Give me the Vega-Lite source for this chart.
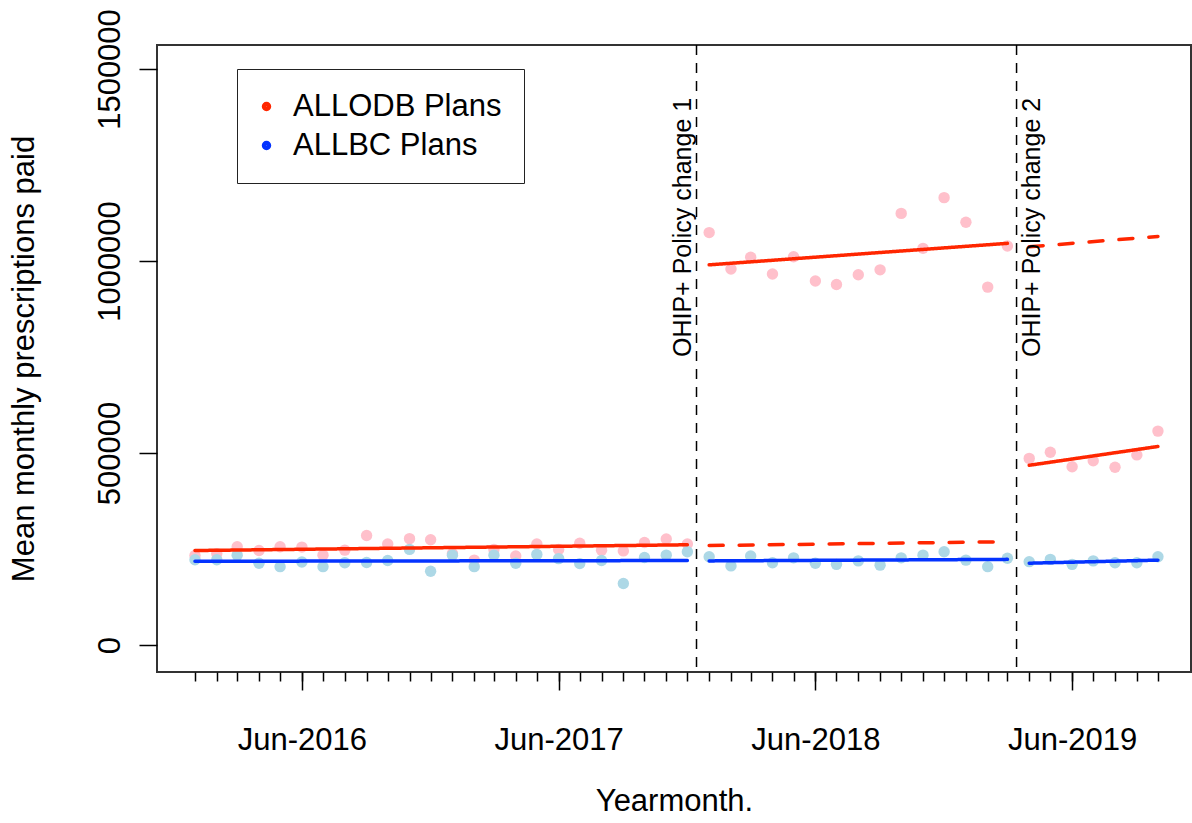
{
  "$schema": "https://vega.github.io/schema/vega-lite/v6.json",
  "width": 1034,
  "height": 627,
  "autosize": {"type": "none"},
  "padding": {"left": 157, "top": 45, "right": 1, "bottom": 151},
  "background": "white",
  "config": {
    "font": "Liberation Sans",
    "view": {"stroke": "#333333", "strokeWidth": 2},
    "axis": {
      "grid": false, "domain": false, "tickColor": "#000000", "tickWidth": 1.5,
      "labelColor": "#000000", "titleColor": "#000000",
      "labelFont": "Liberation Sans", "titleFont": "Liberation Sans",
      "labelFontSize": 31, "titleFontSize": 31, "titleFontWeight": "normal"
    }
  },
  "datasets": {
    "points": [
      {"date": "2016-01-01", "series": "ALLODB Plans", "value": 233000},
      {"date": "2016-02-01", "series": "ALLODB Plans", "value": 238000},
      {"date": "2016-03-01", "series": "ALLODB Plans", "value": 256000},
      {"date": "2016-04-01", "series": "ALLODB Plans", "value": 246000},
      {"date": "2016-05-01", "series": "ALLODB Plans", "value": 256000},
      {"date": "2016-06-01", "series": "ALLODB Plans", "value": 255000},
      {"date": "2016-07-01", "series": "ALLODB Plans", "value": 234000},
      {"date": "2016-08-01", "series": "ALLODB Plans", "value": 247000},
      {"date": "2016-09-01", "series": "ALLODB Plans", "value": 285000},
      {"date": "2016-10-01", "series": "ALLODB Plans", "value": 263000},
      {"date": "2016-11-01", "series": "ALLODB Plans", "value": 277000},
      {"date": "2016-12-01", "series": "ALLODB Plans", "value": 274000},
      {"date": "2017-01-01", "series": "ALLODB Plans", "value": 238000},
      {"date": "2017-02-01", "series": "ALLODB Plans", "value": 221000},
      {"date": "2017-03-01", "series": "ALLODB Plans", "value": 249000},
      {"date": "2017-04-01", "series": "ALLODB Plans", "value": 232000},
      {"date": "2017-05-01", "series": "ALLODB Plans", "value": 263000},
      {"date": "2017-06-01", "series": "ALLODB Plans", "value": 249000},
      {"date": "2017-07-01", "series": "ALLODB Plans", "value": 265000},
      {"date": "2017-08-01", "series": "ALLODB Plans", "value": 247000},
      {"date": "2017-09-01", "series": "ALLODB Plans", "value": 245000},
      {"date": "2017-10-01", "series": "ALLODB Plans", "value": 267000},
      {"date": "2017-11-01", "series": "ALLODB Plans", "value": 276000},
      {"date": "2017-12-01", "series": "ALLODB Plans", "value": 263000},
      {"date": "2018-01-01", "series": "ALLODB Plans", "value": 1074000},
      {"date": "2018-02-01", "series": "ALLODB Plans", "value": 979000},
      {"date": "2018-03-01", "series": "ALLODB Plans", "value": 1010000},
      {"date": "2018-04-01", "series": "ALLODB Plans", "value": 966000},
      {"date": "2018-05-01", "series": "ALLODB Plans", "value": 1011000},
      {"date": "2018-06-01", "series": "ALLODB Plans", "value": 948000},
      {"date": "2018-07-01", "series": "ALLODB Plans", "value": 939000},
      {"date": "2018-08-01", "series": "ALLODB Plans", "value": 964000},
      {"date": "2018-09-01", "series": "ALLODB Plans", "value": 977000},
      {"date": "2018-10-01", "series": "ALLODB Plans", "value": 1124000},
      {"date": "2018-11-01", "series": "ALLODB Plans", "value": 1033000},
      {"date": "2018-12-01", "series": "ALLODB Plans", "value": 1165000},
      {"date": "2019-01-01", "series": "ALLODB Plans", "value": 1101000},
      {"date": "2019-02-01", "series": "ALLODB Plans", "value": 932000},
      {"date": "2019-03-01", "series": "ALLODB Plans", "value": 1039000},
      {"date": "2019-04-01", "series": "ALLODB Plans", "value": 486000},
      {"date": "2019-05-01", "series": "ALLODB Plans", "value": 502000},
      {"date": "2019-06-01", "series": "ALLODB Plans", "value": 464000},
      {"date": "2019-07-01", "series": "ALLODB Plans", "value": 480000},
      {"date": "2019-08-01", "series": "ALLODB Plans", "value": 463000},
      {"date": "2019-09-01", "series": "ALLODB Plans", "value": 495000},
      {"date": "2019-10-01", "series": "ALLODB Plans", "value": 557000},
      {"date": "2016-01-01", "series": "ALLBC Plans", "value": 222000},
      {"date": "2016-02-01", "series": "ALLBC Plans", "value": 222000},
      {"date": "2016-03-01", "series": "ALLBC Plans", "value": 234000},
      {"date": "2016-04-01", "series": "ALLBC Plans", "value": 213000},
      {"date": "2016-05-01", "series": "ALLBC Plans", "value": 204000},
      {"date": "2016-06-01", "series": "ALLBC Plans", "value": 216000},
      {"date": "2016-07-01", "series": "ALLBC Plans", "value": 204000},
      {"date": "2016-08-01", "series": "ALLBC Plans", "value": 214000},
      {"date": "2016-09-01", "series": "ALLBC Plans", "value": 215000},
      {"date": "2016-10-01", "series": "ALLBC Plans", "value": 220000},
      {"date": "2016-11-01", "series": "ALLBC Plans", "value": 249000},
      {"date": "2016-12-01", "series": "ALLBC Plans", "value": 192000},
      {"date": "2017-01-01", "series": "ALLBC Plans", "value": 234000},
      {"date": "2017-02-01", "series": "ALLBC Plans", "value": 204000},
      {"date": "2017-03-01", "series": "ALLBC Plans", "value": 234000},
      {"date": "2017-04-01", "series": "ALLBC Plans", "value": 213000},
      {"date": "2017-05-01", "series": "ALLBC Plans", "value": 236000},
      {"date": "2017-06-01", "series": "ALLBC Plans", "value": 225000},
      {"date": "2017-07-01", "series": "ALLBC Plans", "value": 212000},
      {"date": "2017-08-01", "series": "ALLBC Plans", "value": 220000},
      {"date": "2017-09-01", "series": "ALLBC Plans", "value": 160000},
      {"date": "2017-10-01", "series": "ALLBC Plans", "value": 228000},
      {"date": "2017-11-01", "series": "ALLBC Plans", "value": 234000},
      {"date": "2017-12-01", "series": "ALLBC Plans", "value": 243000},
      {"date": "2018-01-01", "series": "ALLBC Plans", "value": 230000},
      {"date": "2018-02-01", "series": "ALLBC Plans", "value": 206000},
      {"date": "2018-03-01", "series": "ALLBC Plans", "value": 232000},
      {"date": "2018-04-01", "series": "ALLBC Plans", "value": 214000},
      {"date": "2018-05-01", "series": "ALLBC Plans", "value": 227000},
      {"date": "2018-06-01", "series": "ALLBC Plans", "value": 213000},
      {"date": "2018-07-01", "series": "ALLBC Plans", "value": 210000},
      {"date": "2018-08-01", "series": "ALLBC Plans", "value": 219000},
      {"date": "2018-09-01", "series": "ALLBC Plans", "value": 208000},
      {"date": "2018-10-01", "series": "ALLBC Plans", "value": 227000},
      {"date": "2018-11-01", "series": "ALLBC Plans", "value": 234000},
      {"date": "2018-12-01", "series": "ALLBC Plans", "value": 243000},
      {"date": "2019-01-01", "series": "ALLBC Plans", "value": 221000},
      {"date": "2019-02-01", "series": "ALLBC Plans", "value": 204000},
      {"date": "2019-03-01", "series": "ALLBC Plans", "value": 226000},
      {"date": "2019-04-01", "series": "ALLBC Plans", "value": 217000},
      {"date": "2019-05-01", "series": "ALLBC Plans", "value": 223000},
      {"date": "2019-06-01", "series": "ALLBC Plans", "value": 210000},
      {"date": "2019-07-01", "series": "ALLBC Plans", "value": 219000},
      {"date": "2019-08-01", "series": "ALLBC Plans", "value": 214000},
      {"date": "2019-09-01", "series": "ALLBC Plans", "value": 214000},
      {"date": "2019-10-01", "series": "ALLBC Plans", "value": 230000}
    ],
    "fits": [
      {"series": "ALLODB Plans", "seg": "odb1", "style": "solid", "date": "2016-01-01", "value": 246000},
      {"series": "ALLODB Plans", "seg": "odb1", "style": "solid", "date": "2017-12-01", "value": 261000},
      {"series": "ALLODB Plans", "seg": "odb1cf", "style": "dashed", "date": "2018-01-01", "value": 259000},
      {"series": "ALLODB Plans", "seg": "odb1cf", "style": "dashed", "date": "2019-03-01", "value": 269000},
      {"series": "ALLODB Plans", "seg": "odb2", "style": "solid", "date": "2018-01-01", "value": 990000},
      {"series": "ALLODB Plans", "seg": "odb2", "style": "solid", "date": "2019-03-01", "value": 1046000},
      {"series": "ALLODB Plans", "seg": "odb2cf", "style": "dashed", "date": "2019-04-01", "value": 1037000},
      {"series": "ALLODB Plans", "seg": "odb2cf", "style": "dashed", "date": "2019-10-01", "value": 1064000},
      {"series": "ALLODB Plans", "seg": "odb3", "style": "solid", "date": "2019-04-01", "value": 468000},
      {"series": "ALLODB Plans", "seg": "odb3", "style": "solid", "date": "2019-10-01", "value": 517000},
      {"series": "ALLBC Plans", "seg": "bc1", "style": "solid", "date": "2016-01-01", "value": 218000},
      {"series": "ALLBC Plans", "seg": "bc1", "style": "solid", "date": "2017-12-01", "value": 220000},
      {"series": "ALLBC Plans", "seg": "bc2", "style": "solid", "date": "2018-01-01", "value": 219000},
      {"series": "ALLBC Plans", "seg": "bc2", "style": "solid", "date": "2019-03-01", "value": 223000},
      {"series": "ALLBC Plans", "seg": "bc3", "style": "solid", "date": "2019-04-01", "value": 213000},
      {"series": "ALLBC Plans", "seg": "bc3", "style": "solid", "date": "2019-10-01", "value": 221000}
    ],
    "events": [
      {"event": "OHIP+ Policy change 1", "date": "2017-12-14"},
      {"event": "OHIP+ Policy change 2", "date": "2019-03-14"}
    ]
  },
  "layer": [
    {
      "data": {"name": "events"},
      "mark": {"type": "rule", "color": "#000000", "strokeWidth": 1.5, "strokeDash": [10, 8]},
      "encoding": {
        "x": {
          "field": "date", "type": "temporal",
          "scale": {"type": "utc", "domain": [{"year": 2015, "month": 11, "date": 8, "utc": true}, {"year": 2019, "month": 11, "date": 17, "utc": true}]},
          "axis": {
            "orient": "bottom", "labels": false, "tickSize": 9, "title": null,
            "values": [
              {"year": 2016, "month": 1, "date": 1, "utc": true}, {"year": 2016, "month": 2, "date": 1, "utc": true}, {"year": 2016, "month": 3, "date": 1, "utc": true}, {"year": 2016, "month": 4, "date": 1, "utc": true}, {"year": 2016, "month": 5, "date": 1, "utc": true}, {"year": 2016, "month": 6, "date": 1, "utc": true}, {"year": 2016, "month": 7, "date": 1, "utc": true}, {"year": 2016, "month": 8, "date": 1, "utc": true}, {"year": 2016, "month": 9, "date": 1, "utc": true}, {"year": 2016, "month": 10, "date": 1, "utc": true}, {"year": 2016, "month": 11, "date": 1, "utc": true}, {"year": 2016, "month": 12, "date": 1, "utc": true},
              {"year": 2017, "month": 1, "date": 1, "utc": true}, {"year": 2017, "month": 2, "date": 1, "utc": true}, {"year": 2017, "month": 3, "date": 1, "utc": true}, {"year": 2017, "month": 4, "date": 1, "utc": true}, {"year": 2017, "month": 5, "date": 1, "utc": true}, {"year": 2017, "month": 6, "date": 1, "utc": true}, {"year": 2017, "month": 7, "date": 1, "utc": true}, {"year": 2017, "month": 8, "date": 1, "utc": true}, {"year": 2017, "month": 9, "date": 1, "utc": true}, {"year": 2017, "month": 10, "date": 1, "utc": true}, {"year": 2017, "month": 11, "date": 1, "utc": true}, {"year": 2017, "month": 12, "date": 1, "utc": true},
              {"year": 2018, "month": 1, "date": 1, "utc": true}, {"year": 2018, "month": 2, "date": 1, "utc": true}, {"year": 2018, "month": 3, "date": 1, "utc": true}, {"year": 2018, "month": 4, "date": 1, "utc": true}, {"year": 2018, "month": 5, "date": 1, "utc": true}, {"year": 2018, "month": 6, "date": 1, "utc": true}, {"year": 2018, "month": 7, "date": 1, "utc": true}, {"year": 2018, "month": 8, "date": 1, "utc": true}, {"year": 2018, "month": 9, "date": 1, "utc": true}, {"year": 2018, "month": 10, "date": 1, "utc": true}, {"year": 2018, "month": 11, "date": 1, "utc": true}, {"year": 2018, "month": 12, "date": 1, "utc": true},
              {"year": 2019, "month": 1, "date": 1, "utc": true}, {"year": 2019, "month": 2, "date": 1, "utc": true}, {"year": 2019, "month": 3, "date": 1, "utc": true}, {"year": 2019, "month": 4, "date": 1, "utc": true}, {"year": 2019, "month": 5, "date": 1, "utc": true}, {"year": 2019, "month": 6, "date": 1, "utc": true}, {"year": 2019, "month": 7, "date": 1, "utc": true}, {"year": 2019, "month": 8, "date": 1, "utc": true}, {"year": 2019, "month": 9, "date": 1, "utc": true}, {"year": 2019, "month": 10, "date": 1, "utc": true}
            ]
          }
        }
      }
    },
    {
      "data": {"name": "points"},
      "mark": {"type": "circle", "size": 130, "opacity": 1},
      "encoding": {
        "x": {
          "field": "date", "type": "temporal",
          "scale": {"type": "utc", "domain": [{"year": 2015, "month": 11, "date": 8, "utc": true}, {"year": 2019, "month": 11, "date": 17, "utc": true}]},
          "axis": {
            "orient": "bottom", "format": "%b-%Y", "tickSize": 18, "labelPadding": 35,
            "title": "Yearmonth.", "titlePadding": 31,
            "values": [
              {"year": 2016, "month": 6, "date": 1, "utc": true},
              {"year": 2017, "month": 6, "date": 1, "utc": true},
              {"year": 2018, "month": 6, "date": 1, "utc": true},
              {"year": 2019, "month": 6, "date": 1, "utc": true}
            ]
          }
        },
        "y": {
          "field": "value", "type": "quantitative",
          "scale": {"domain": [-70312, 1562500], "nice": false, "zero": false},
          "axis": {
            "values": [0, 500000, 1000000, 1500000], "format": "d",
            "labelAngle": 270, "labelAlign": "center", "labelBaseline": "bottom",
            "tickSize": 18, "labelPadding": 13,
            "title": "Mean monthly prescriptions paid", "titlePadding": 54
          }
        },
        "fill": {
          "field": "series", "type": "nominal",
          "scale": {"domain": ["ALLBC Plans", "ALLODB Plans"], "range": ["#ADD8E6", "#FFC0CB"]},
          "legend": null
        }
      }
    },
    {
      "data": {"name": "fits"},
      "mark": {"type": "line", "strokeWidth": 3.5, "strokeCap": "round"},
      "encoding": {
        "x": {
          "field": "date", "type": "temporal",
          "scale": {"type": "utc", "domain": [{"year": 2015, "month": 11, "date": 8, "utc": true}, {"year": 2019, "month": 11, "date": 17, "utc": true}]},
          "axis": null
        },
        "y": {
          "field": "value", "type": "quantitative",
          "scale": {"domain": [-70312, 1562500], "nice": false, "zero": false},
          "axis": {
            "values": [0, 500000, 1000000, 1500000], "format": "d",
            "labelAngle": 270, "labelAlign": "center", "labelBaseline": "bottom",
            "tickSize": 18, "labelPadding": 13,
            "title": "Mean monthly prescriptions paid", "titlePadding": 54
          }
        },
        "stroke": {
          "field": "series", "type": "nominal",
          "scale": {"domain": ["ALLODB Plans", "ALLBC Plans"], "range": ["#FF2600", "#0433FF"]},
          "legend": {
            "orient": "none", "legendX": 80, "legendY": 24, "title": null, "direction": "vertical",
            "symbolType": "circle", "symbolSize": 20, "symbolStrokeWidth": 5,
            "labelFontSize": 31, "labelFont": "Liberation Sans", "labelColor": "#000000", "labelLimit": 400,
            "padding": 22, "rowPadding": 7, "labelOffset": 11, "symbolOffset": -8,
            "strokeColor": "#222222", "fillColor": "#FFFFFF"
          }
        },
        "strokeDash": {
          "field": "style", "type": "nominal",
          "scale": {"domain": ["solid", "dashed"], "range": [[1, 0], [14, 16]]},
          "legend": null
        },
        "detail": {"field": "seg", "type": "nominal"}
      }
    },
    {
      "data": {"name": "events"},
      "transform": [{"filter": "datum.event == 'OHIP+ Policy change 1'"}],
      "mark": {"type": "text", "angle": 270, "align": "left", "baseline": "middle", "fontSize": 25, "font": "Liberation Sans", "color": "#000000", "dy": -14},
      "encoding": {
        "x": {
          "field": "date", "type": "temporal",
          "scale": {"type": "utc", "domain": [{"year": 2015, "month": 11, "date": 8, "utc": true}, {"year": 2019, "month": 11, "date": 17, "utc": true}]},
          "axis": null
        },
        "y": {"datum": 750000, "type": "quantitative"},
        "text": {"field": "event"}
      }
    },
    {
      "data": {"name": "events"},
      "transform": [{"filter": "datum.event == 'OHIP+ Policy change 2'"}],
      "mark": {"type": "text", "angle": 270, "align": "left", "baseline": "middle", "fontSize": 25, "font": "Liberation Sans", "color": "#000000", "dy": 15},
      "encoding": {
        "x": {
          "field": "date", "type": "temporal",
          "scale": {"type": "utc", "domain": [{"year": 2015, "month": 11, "date": 8, "utc": true}, {"year": 2019, "month": 11, "date": 17, "utc": true}]},
          "axis": null
        },
        "y": {"datum": 750000, "type": "quantitative"},
        "text": {"field": "event"}
      }
    }
  ],
  "resolve": {"axis": {"x": "independent"}}
}
